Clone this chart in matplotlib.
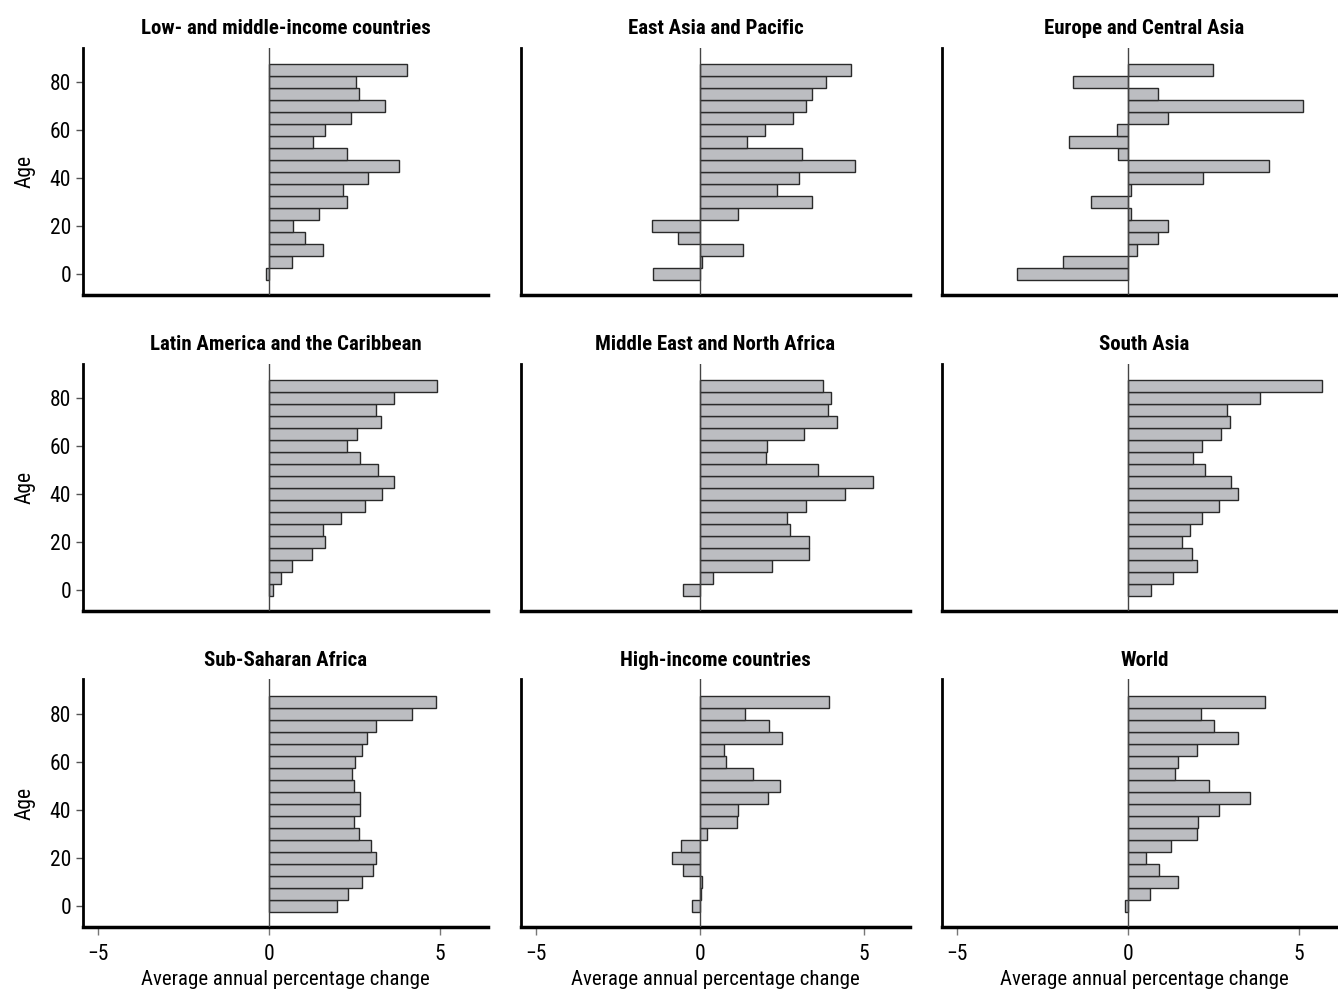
import matplotlib
matplotlib.use("Agg")
import matplotlib.pyplot as plt
import numpy as np

plt.rcParams['font.family'] = ['Roboto Condensed', 'Liberation Sans Narrow', 'Liberation Sans', 'DejaVu Sans']
plt.rcParams['axes.unicode_minus'] = True

# age groups, bottom to top
ages = [0, 5, 10, 15, 20, 25, 30, 35, 40, 45, 50, 55, 60, 65, 70, 75, 80, 85]

titles = [
    "Low- and middle-income countries", "East Asia and Pacific", "Europe and Central Asia",
    "Latin America and the Caribbean", "Middle East and North Africa", "South Asia",
    "Sub-Saharan Africa", "High-income countries", "World",
]

# values listed age 0 -> 85
lmic = [-0.08, 0.68, 1.56, 1.06, 0.69, 1.47, 2.29, 2.17, 2.90, 3.79, 2.27, 1.29, 1.62, 2.40, 3.40, 2.62, 2.54, 4.03]
eap = [-1.42, 0.07, 1.32, -0.66, -1.47, 1.17, 3.42, 2.35, 3.02, 4.72, 3.12, 1.42, 1.99, 2.85, 3.24, 3.43, 3.83, 4.59]
eca = [-3.24, -1.91, 0.26, 0.88, 1.16, 0.07, -1.09, 0.07, 2.20, 4.12, -0.31, -1.73, -0.33, 1.15, 5.11, 0.88, -1.63, 2.47]
lac = [0.11, 0.33, 0.68, 1.26, 1.63, 1.58, 2.10, 2.79, 3.31, 3.64, 3.17, 2.67, 2.29, 2.56, 3.28, 3.11, 3.66, 4.92]
mena = [-0.50, 0.41, 2.20, 3.33, 3.31, 2.75, 2.64, 3.24, 4.43, 5.26, 3.61, 2.00, 2.05, 3.18, 4.19, 3.91, 3.98, 3.76]
sas = [0.66, 1.32, 2.01, 1.88, 1.56, 1.82, 2.16, 2.65, 3.20, 3.01, 2.25, 1.90, 2.15, 2.70, 2.97, 2.90, 3.87, 5.66]
ssa = [1.99, 2.31, 2.72, 3.04, 3.11, 2.97, 2.64, 2.49, 2.67, 2.67, 2.48, 2.42, 2.50, 2.71, 2.85, 3.13, 4.19, 4.89]
hic = [-0.25, 0.04, 0.07, -0.53, -0.86, -0.59, 0.21, 1.14, 1.17, 2.08, 2.45, 1.61, 0.78, 0.73, 2.49, 2.12, 1.38, 3.94]
world = [-0.09, 0.64, 1.46, 0.91, 0.52, 1.24, 2.02, 2.05, 2.66, 3.55, 2.37, 1.38, 1.46, 2.00, 3.20, 2.51, 2.13, 3.99]

series = [lmic, eap, eca, lac, mena, sas, ssa, hic, world]

fig = plt.figure(figsize=(13.38, 9.94), dpi=100)

col_left = [0.0620, 0.3894, 0.7040]
col_width = [0.3027, 0.2907, 0.3027]
row_bottom = [0.7032, 0.3853, 0.0674]
row_height = 0.249

for k in range(9):
    r, c = divmod(k, 3)
    ax = fig.add_axes([col_left[c], row_bottom[r], col_width[c], row_height])
    ax.barh(ages, series[k], height=5, color='#bcbdc1', edgecolor='#2a2a2a', linewidth=1.0, zorder=2)
    ax.axvline(0, color='#444444', linewidth=1.0, zorder=3)
    ax.set_xlim(-5.45, 6.4)
    ax.set_ylim(-8.7, 94.2)
    ax.set_title(titles[k], fontsize=15, fontweight='bold', pad=10)

    for s in ['top', 'right']:
        ax.spines[s].set_visible(False)
    ax.spines['bottom'].set_linewidth(2.5)
    ax.spines['left'].set_linewidth(2.0)

    ax.set_xticks([-5, 0, 5])
    ax.set_yticks([0, 20, 40, 60, 80])
    if c == 0:
        ax.set_ylabel("Age", fontsize=15.5, labelpad=10)
        ax.tick_params(axis='y', labelsize=15.5, length=5, width=1, color='#555555')
    else:
        ax.tick_params(axis='y', left=False, labelleft=False)
    if r == 2:
        ax.set_xlabel("Average annual percentage change", fontsize=15, labelpad=4)
        ax.tick_params(axis='x', labelsize=15.5, length=6, width=1, color='#777777', pad=6)
    else:
        ax.tick_params(axis='x', bottom=False, labelbottom=False)

fig.savefig("out.png", dpi=100)
